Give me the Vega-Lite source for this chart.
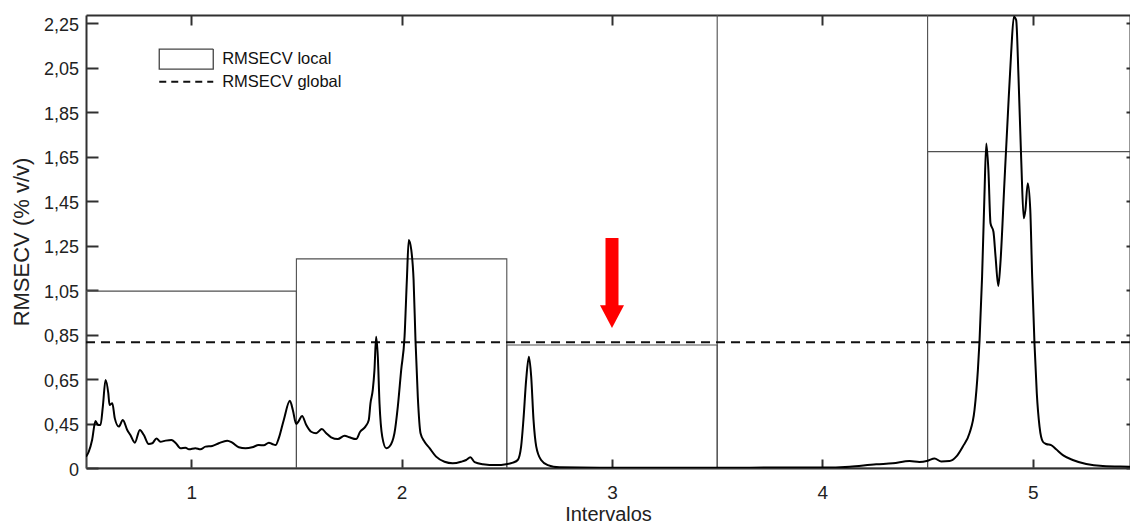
{
  "$schema": "https://vega.github.io/schema/vega-lite/v6.json",
  "autosize": {"type": "none"},
  "width": 1044,
  "height": 453,
  "padding": {"left": 86, "top": 15, "right": 0, "bottom": 56},
  "background": "white",
  "config": {
    "view": {"stroke": null},
    "font": "Liberation Sans",
    "axis": {"grid": false, "domainColor": "#303030", "domainWidth": 2, "tickColor": "#303030", "tickWidth": 2, "labelColor": "#222", "titleColor": "#222", "titleFontWeight": "normal"}
  },
  "datasets": {
    "local": [
      {"x1": 0.5, "x2": 1.5, "top": 1.045, "serie": "RMSECV local"},
      {"x1": 1.5, "x2": 2.5, "top": 1.19, "serie": "RMSECV local"},
      {"x1": 2.5, "x2": 3.5, "top": 0.803, "serie": "RMSECV local"},
      {"x1": 3.5, "x2": 4.5, "top": 2.6, "serie": "RMSECV local"},
      {"x1": 4.5, "x2": 5.5, "top": 1.672, "serie": "RMSECV local"}
    ],
    "global": [{"valor": 0.815, "serie": "RMSECV global"}],
    "leyenda": [{"serie": "RMSECV local"}, {"serie": "RMSECV global"}],
    "arrow": [{"x": 3, "top": 1.284, "neck": 0.97, "head": 0.93}],
    "curve": [
      {"x":0.5,"y":0.301},{"x":0.513,"y":0.323},{"x":0.529,"y":0.376},{"x":0.545,"y":0.461},{"x":0.558,"y":0.443},{"x":0.569,"y":0.443},{"x":0.58,"y":0.526},{"x":0.593,"y":0.646},{"x":0.606,"y":0.586},{"x":0.612,"y":0.533},{"x":0.625,"y":0.541},{"x":0.637,"y":0.473},{"x":0.656,"y":0.436},{"x":0.675,"y":0.466},{"x":0.696,"y":0.421},{"x":0.711,"y":0.398},{"x":0.732,"y":0.364},{"x":0.756,"y":0.421},{"x":0.775,"y":0.398},{"x":0.798,"y":0.358},{"x":0.815,"y":0.361},{"x":0.835,"y":0.383},{"x":0.854,"y":0.368},{"x":0.878,"y":0.373},{"x":0.906,"y":0.376},{"x":0.925,"y":0.364},{"x":0.949,"y":0.339},{"x":0.973,"y":0.341},{"x":0.989,"y":0.334},{"x":1.02,"y":0.339},{"x":1.044,"y":0.334},{"x":1.068,"y":0.346},{"x":1.1,"y":0.349},{"x":1.131,"y":0.361},{"x":1.171,"y":0.373},{"x":1.195,"y":0.364},{"x":1.226,"y":0.343},{"x":1.258,"y":0.339},{"x":1.29,"y":0.343},{"x":1.321,"y":0.353},{"x":1.345,"y":0.352},{"x":1.369,"y":0.364},{"x":1.385,"y":0.358},{"x":1.401,"y":0.353},{"x":1.416,"y":0.383},{"x":1.44,"y":0.466},{"x":1.469,"y":0.552},{"x":1.483,"y":0.511},{"x":1.499,"y":0.448},{"x":1.511,"y":0.461},{"x":1.527,"y":0.484},{"x":1.547,"y":0.443},{"x":1.57,"y":0.413},{"x":1.594,"y":0.406},{"x":1.621,"y":0.425},{"x":1.642,"y":0.406},{"x":1.665,"y":0.388},{"x":1.697,"y":0.38},{"x":1.729,"y":0.395},{"x":1.752,"y":0.388},{"x":1.784,"y":0.38},{"x":1.803,"y":0.413},{"x":1.828,"y":0.436},{"x":1.844,"y":0.466},{"x":1.852,"y":0.541},{"x":1.863,"y":0.601},{"x":1.871,"y":0.69},{"x":1.879,"y":0.84},{"x":1.887,"y":0.75},{"x":1.895,"y":0.541},{"x":1.908,"y":0.391},{"x":1.927,"y":0.339},{"x":1.942,"y":0.346},{"x":1.966,"y":0.406},{"x":1.982,"y":0.526},{"x":1.998,"y":0.69},{"x":2.014,"y":0.84},{"x":2.025,"y":1.095},{"x":2.034,"y":1.275},{"x":2.046,"y":1.23},{"x":2.057,"y":1.095},{"x":2.066,"y":0.825},{"x":2.077,"y":0.57},{"x":2.09,"y":0.406},{"x":2.109,"y":0.368},{"x":2.133,"y":0.339},{"x":2.164,"y":0.301},{"x":2.204,"y":0.278},{"x":2.243,"y":0.271},{"x":2.283,"y":0.278},{"x":2.307,"y":0.286},{"x":2.327,"y":0.298},{"x":2.347,"y":0.276},{"x":2.386,"y":0.267},{"x":2.45,"y":0.263},{"x":2.497,"y":0.267},{"x":2.529,"y":0.274},{"x":2.552,"y":0.286},{"x":2.568,"y":0.346},{"x":2.579,"y":0.466},{"x":2.592,"y":0.646},{"x":2.605,"y":0.75},{"x":2.616,"y":0.66},{"x":2.627,"y":0.466},{"x":2.64,"y":0.346},{"x":2.663,"y":0.286},{"x":2.695,"y":0.263},{"x":2.75,"y":0.253},{"x":2.941,"y":0.251},{"x":3.2,"y":0.251},{"x":3.5,"y":0.251},{"x":3.8,"y":0.252},{"x":4.002,"y":0.252},{"x":4.129,"y":0.256},{"x":4.256,"y":0.267},{"x":4.335,"y":0.271},{"x":4.414,"y":0.281},{"x":4.461,"y":0.277},{"x":4.501,"y":0.283},{"x":4.533,"y":0.293},{"x":4.565,"y":0.279},{"x":4.604,"y":0.281},{"x":4.636,"y":0.301},{"x":4.667,"y":0.346},{"x":4.699,"y":0.406},{"x":4.723,"y":0.511},{"x":4.739,"y":0.69},{"x":4.747,"y":0.825},{"x":4.759,"y":1.11},{"x":4.77,"y":1.469},{"x":4.779,"y":1.709},{"x":4.789,"y":1.589},{"x":4.799,"y":1.35},{"x":4.813,"y":1.312},{"x":4.823,"y":1.2},{"x":4.836,"y":1.068},{"x":4.846,"y":1.17},{"x":4.865,"y":1.53},{"x":4.881,"y":1.829},{"x":4.897,"y":2.114},{"x":4.91,"y":2.278},{"x":4.921,"y":2.263},{"x":4.932,"y":2.009},{"x":4.945,"y":1.634},{"x":4.957,"y":1.372},{"x":4.965,"y":1.41},{"x":4.976,"y":1.53},{"x":4.988,"y":1.41},{"x":4.997,"y":1.11},{"x":5.008,"y":0.81},{"x":5.019,"y":0.586},{"x":5.032,"y":0.436},{"x":5.048,"y":0.368},{"x":5.064,"y":0.358},{"x":5.087,"y":0.353},{"x":5.111,"y":0.334},{"x":5.143,"y":0.308},{"x":5.19,"y":0.286},{"x":5.254,"y":0.268},{"x":5.333,"y":0.259},{"x":5.46,"y":0.256},{"x":5.5,"y":0.255}
    ]
  },
  "resolve": {"axis": {"x": "independent", "y": "independent"}},
  "layer": [
    {
      "data": {"name": "local"},
      "mark": {"type": "rect", "filled": false, "stroke": "#505050", "strokeWidth": 1.1, "clip": true},
      "encoding": {
        "x": {"field": "x1", "type": "quantitative",
          "scale": {"domain": [0.5, 5.462], "nice": false, "zero": false},
          "axis": {"orient": "bottom", "values": [1, 2, 3, 4, 5], "title": "Intervalos", "tickSize": -9, "labelPadding": 39, "labelBaseline": "alphabetic", "labelFontSize": 19, "titleFontSize": 20, "titleBaseline": "alphabetic", "titleY": 52, "labelFlush": false}},
        "x2": {"field": "x2"},
        "y": {"field": "top", "type": "quantitative",
          "scale": {"domain": [0.25, 2.286], "nice": false, "zero": false},
          "axis": {"orient": "left", "values": [0.25, 0.45, 0.65, 0.85, 1.05, 1.25, 1.45, 1.65, 1.85, 2.05, 2.25], "labelExpr": "datum.value < 0.3 ? '0' : replace(format(datum.value, '.2f'), '.', ',')", "tickSize": -12, "labelPadding": 19.5, "labelOffset": 2, "labelFontSize": 18, "labelFlush": false, "title": "RMSECV (% v/v)", "titleFontSize": 22, "titleAngle": -90, "titleAlign": "center", "titleBaseline": "middle", "titleX": -65, "titleY": 226.5}},
        "y2": {"datum": 0.25}
      }
    },
    {
      "data": {"name": "global"},
      "mark": {"type": "rule", "color": "#111", "strokeWidth": 2, "strokeDash": [9, 6]},
      "encoding": {
        "y": {"field": "valor", "type": "quantitative",
          "axis": {"orient": "right", "values": [0.25, 0.45, 0.65, 0.85, 1.05, 1.25, 1.45, 1.65, 1.85, 2.05, 2.25], "labels": false, "title": null, "tickSize": -4}}
      }
    },
    {
      "data": {"name": "leyenda"},
      "mark": {"type": "point", "filled": false, "opacity": 0, "color": "#111"},
      "encoding": {
        "shape": {"field": "serie", "type": "nominal",
          "scale": {"domain": ["RMSECV local", "RMSECV global"], "range": ["M-1,-1.11H5V1.11H-1Z", "M-1,0H5"]},
          "legend": {"orient": "none", "legendX": 74, "legendY": 35.8, "title": null, "padding": 0, "symbolSize": 324, "symbolOpacity": 1, "labelFontSize": 16.5, "labelOffset": 45.7, "rowPadding": 1.7, "labelColor": "#111", "symbolFillColor": "transparent",
            "symbolDash": {"expr": "datum.value === 'RMSECV global' ? [7, 5] : [1, 0]"},
            "symbolStrokeWidth": {"expr": "datum.value === 'RMSECV global' ? 2 : 1.3"},
            "symbolStrokeColor": {"expr": "datum.value === 'RMSECV global' ? '#111' : '#444'"}}}
      }
    },
    {
      "data": {"name": "curve"},
      "mark": {"type": "line", "color": "#000", "strokeWidth": 2, "interpolate": "monotone", "clip": true},
      "encoding": {
        "x": {"field": "x", "type": "quantitative",
          "axis": {"orient": "top", "values": [1, 2, 3, 4, 5], "labels": false, "title": null, "tickSize": -10}},
        "y": {"field": "y", "type": "quantitative", "axis": null}
      }
    },
    {
      "data": {"name": "arrow"},
      "mark": {"type": "rule", "color": "#ff0000", "strokeWidth": 13, "strokeCap": "butt"},
      "encoding": {
        "x": {"field": "x", "type": "quantitative", "axis": null},
        "y": {"field": "top", "type": "quantitative", "axis": null},
        "y2": {"field": "neck"}
      }
    },
    {
      "data": {"name": "arrow"},
      "mark": {"type": "point", "filled": true, "color": "#ff0000", "opacity": 1, "shape": "M-1,-0.95L1,-0.95L0,0.95Z", "size": 576, "strokeWidth": 0},
      "encoding": {
        "x": {"field": "x", "type": "quantitative", "axis": null},
        "y": {"field": "head", "type": "quantitative", "axis": null}
      }
    }
  ]
}
